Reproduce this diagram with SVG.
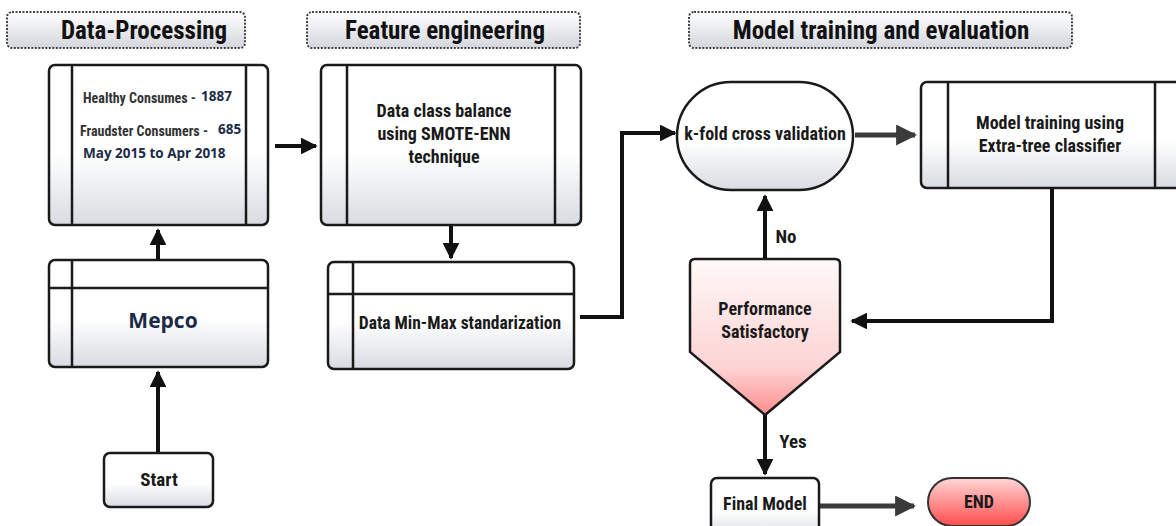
<svg xmlns="http://www.w3.org/2000/svg" width="1176" height="526" viewBox="0 0 1176 526">
  <defs>
    <linearGradient id="gBox" x1="0" y1="0" x2="0" y2="1">
      <stop offset="0" stop-color="#ffffff"/>
      <stop offset="0.55" stop-color="#ffffff"/>
      <stop offset="1" stop-color="#d8dbe1"/>
    </linearGradient>
    <linearGradient id="gHead" x1="0" y1="0" x2="0" y2="1">
      <stop offset="0" stop-color="#ffffff"/>
      <stop offset="1" stop-color="#d3d6dc"/>
    </linearGradient>
    <linearGradient id="gPink" x1="0" y1="0" x2="0" y2="1">
      <stop offset="0" stop-color="#fff8f8"/>
      <stop offset="0.7" stop-color="#fdd3d3"/>
      <stop offset="1" stop-color="#ff8c8c"/>
    </linearGradient>
    <linearGradient id="gEnd" x1="0" y1="0" x2="0" y2="1">
      <stop offset="0" stop-color="#ffd6d6"/>
      <stop offset="1" stop-color="#ff4d4d"/>
    </linearGradient>
    <marker id="arrow" viewBox="0 0 10 10" refX="9" refY="5" markerWidth="4.2" markerHeight="4.2" orient="auto" markerUnits="strokeWidth">
      <path d="M0,0 L10,5 L0,10 z" fill="#111"/>
    </marker>
    <marker id="arrowG" viewBox="0 0 10 10" refX="9" refY="5" markerWidth="4.2" markerHeight="4.2" orient="auto" markerUnits="strokeWidth">
      <path d="M0,0 L10,5 L0,10 z" fill="#3a3a3a"/>
    </marker>
  </defs>
  <style>
    .box { fill: url(#gBox); stroke: #1a1a1a; stroke-width: 2.5; }
    .div { stroke: #1a1a1a; stroke-width: 2.5; fill: none; }
    .head { fill: url(#gHead); stroke: #444; stroke-width: 2; stroke-dasharray: 2 1.5; }
    .htxt { font-family: "Roboto Condensed", "Liberation Sans Narrow", "DejaVu Sans Condensed", sans-serif; font-weight: bold; font-size: 25px; fill: #111; text-anchor: middle; }
    .t { font-family: "Roboto Condensed", "Liberation Sans Narrow", "DejaVu Sans Condensed", sans-serif; font-weight: bold; font-size: 18px; fill: #1a1a1a; text-anchor: middle; }
    .small { font-family: "Roboto Condensed", "Liberation Sans Narrow", sans-serif; font-weight: bold; font-size: 14px; fill: #333; }
    .num { font-family: "Open Sans", "Liberation Sans", sans-serif; font-weight: bold; font-size: 13.5px; fill: #1c2a48; }
    .lbl { font-size: 19px; }
    .big { font-size: 21px; }
    .conn { stroke: #111; stroke-width: 4; fill: none; }
    .connG { stroke: #3a3a3a; stroke-width: 5; fill: none; }
  </style>

  <!-- section headers -->
  <g id="header-data-processing">
    <rect class="head" x="7" y="12" width="238" height="36" rx="5"/>
    <text class="htxt" x="144" y="39">Data-Processing</text>
  </g>
  <g id="header-feature-engineering">
    <rect class="head" x="307" y="12" width="273" height="36" rx="5"/>
    <text class="htxt" x="445" y="39">Feature engineering</text>
  </g>
  <g id="header-model-training">
    <rect class="head" x="689" y="12" width="383" height="36" rx="5"/>
    <text class="htxt" x="881" y="39">Model training and evaluation</text>
  </g>

  <!-- connectors -->
  <g id="connectors">
    <path class="conn" d="M158,453 V372" marker-end="url(#arrow)"/>
    <path class="conn" d="M158,260 V230" marker-end="url(#arrow)"/>
    <path class="conn" d="M275,146 H316" marker-end="url(#arrow)"/>
    <path class="conn" d="M451,225 V258" marker-end="url(#arrow)"/>
    <path class="conn" d="M580,317 H622 V133 H675" marker-end="url(#arrow)"/>
    <path class="connG" d="M855,135 H915" marker-end="url(#arrowG)"/>
    <path class="conn" d="M1052,188 V321 H852" marker-end="url(#arrow)"/>
    <path class="conn" d="M765,259 V196" marker-end="url(#arrow)"/>
    <path class="conn" d="M765,415 V474" marker-end="url(#arrow)"/>
    <path class="connG" d="M820,506 H914" marker-end="url(#arrowG)"/>
    <text class="t lbl" x="786" y="243">No</text>
    <text class="t lbl" x="793" y="448">Yes</text>
  </g>

  <!-- dataset description -->
  <g id="node-dataset">
    <rect class="box" x="49" y="65" width="219" height="160" rx="6"/>
    <path class="div" d="M72,65 V225 M246,65 V225"/>
    <text class="small" x="83" y="103">Healthy Consumes -</text>
    <text class="num" x="201" y="101">1887</text>
    <text class="small" x="80" y="136">Fraudster Consumers -</text>
    <text class="num" x="218" y="134">685</text>
    <text class="num" x="83" y="158">May 2015 to Apr 2018</text>
  </g>

  <!-- data source -->
  <g id="node-mepco">
    <rect class="box" x="49" y="260" width="219" height="107" rx="6"/>
    <path class="div" d="M49,288 H268 M72,260 V367"/>
    <text class="num big" x="163" y="328" text-anchor="middle">Mepco</text>
  </g>

  <g id="node-start">
    <rect class="box" x="104" y="453" width="109" height="54" rx="6"/>
    <text class="t lbl" x="159" y="486">Start</text>
  </g>

  <g id="node-smote">
    <rect class="box" x="321" y="65" width="260" height="160" rx="6"/>
    <path class="div" d="M347,65 V225 M555,65 V225"/>
    <text class="t" x="444" y="117">Data class balance</text>
    <text class="t" x="444" y="140">using SMOTE-ENN</text>
    <text class="t" x="444" y="163">technique</text>
  </g>

  <g id="node-minmax">
    <rect class="box" x="328" y="262" width="246" height="107" rx="6"/>
    <path class="div" d="M328,294 H574 M353,262 V369"/>
    <text class="t" x="460" y="329" style="font-size:17.5px">Data Min-Max standarization</text>
  </g>

  <g id="node-kfold">
    <rect class="box" x="677" y="82" width="176" height="108" rx="54"/>
    <text class="t" x="765" y="140">k-fold cross validation</text>
  </g>

  <g id="node-training">
    <rect class="box" x="921" y="82" width="270" height="106" rx="6"/>
    <path class="div" d="M948,82 V188 M1155,82 V188"/>
    <text class="t" x="1050" y="129">Model training using</text>
    <text class="t" x="1050" y="152">Extra-tree classifier</text>
  </g>

  <g id="node-performance">
    <path d="M695,259 H835 Q840,259 840,264 V352 L765,415 L690,352 V264 Q690,259 695,259 Z" fill="url(#gPink)" stroke="#1a1a1a" stroke-width="2.5"/>
    <text class="t" x="765" y="315">Performance</text>
    <text class="t" x="765" y="338">Satisfactory</text>
  </g>

  <g id="node-final">
    <rect class="box" x="711" y="478" width="108" height="60" rx="6"/>
    <text class="t" x="765" y="510">Final Model</text>
  </g>

  <g id="node-end">
    <rect x="928" y="478" width="102" height="48" rx="24" fill="url(#gEnd)" stroke="#333" stroke-width="2"/>
    <text class="t" x="979" y="508">END</text>
  </g>
</svg>
